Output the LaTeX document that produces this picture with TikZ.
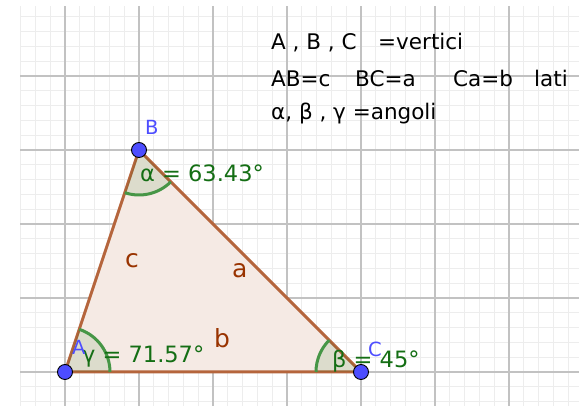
\documentclass[tikz,border=0pt]{standalone}
\usepackage{fontspec}
\setmainfont{DejaVu Sans}
\definecolor{triline}{RGB}{181,101,60}
\definecolor{trifill}{RGB}{245,234,228}
\definecolor{brownlabel}{RGB}{153,51,0}
\definecolor{anglegreen}{RGB}{0,100,0}
\definecolor{arcgreen}{RGB}{70,150,70}
\definecolor{labelgreen}{RGB}{20,110,20}
\definecolor{ptblue}{RGB}{77,77,255}
\begin{document}
\begin{tikzpicture}[x=1pt,y=1pt,
  minorgrid/.style={draw=black!7, line width=1pt},
  majorgrid/.style={draw=black!24, line width=1.6pt},
  side/.style={draw=triline, line width=3pt, line cap=round, line join=round},
  anglesec/.style={fill=anglegreen, fill opacity=0.1},
  anglearc/.style={draw=arcgreen, line width=3pt},
  pt/.style={circle, fill=ptblue, draw=black, line width=0.9pt, minimum size=15pt, inner sep=0pt},
  ptlabel/.style={text=ptblue, font=\fontsize{19.5}{19.5}\selectfont, anchor=base west, inner sep=0pt},
  anglelabel/.style={text=labelgreen, font=\fontsize{22.5}{22.5}\selectfont, anchor=base west, inner sep=0pt},
  sidelabel/.style={text=brownlabel, font=\fontsize{25}{25}\selectfont, anchor=base west, inner sep=0pt},
  info/.style={text=black, font=\fontsize{21.5}{21.5}\selectfont, anchor=base west, inner sep=0pt}]
\useasboundingbox (0,0) rectangle (582,406);
\fill[white] (0,0) rectangle (582,406);
% grid
\begin{scope}
\clip (20,0) rectangle (579,400);
\foreach \i in {0,...,37} \draw[minorgrid] ({20.6+14.8*\i},0) -- ++(0,400);
\foreach \j in {-2,...,24} \draw[minorgrid] (20,{34+14.8*\j}) -- (579,{34+14.8*\j});
\foreach \i in {0,...,6} \draw[majorgrid] ({65+74*\i},0) -- ++(0,400);
\foreach \j in {0,...,4} \draw[majorgrid] (20,{34+74*\j}) -- (579,{34+74*\j});
\end{scope}
% vertices
\coordinate (A) at (65,34);
\coordinate (B) at (139,256);
\coordinate (C) at (361,34);
% triangle
\fill[trifill] (A) -- (B) -- (C) -- cycle;
\draw[side] (A) -- (B) -- (C) -- cycle;
% angles
\fill[anglesec] (A) -- ++(0:45) arc[start angle=0, end angle=71.57, radius=45] -- cycle;
\draw[anglearc] (A) ++(0:45) arc[start angle=0, end angle=71.57, radius=45];
\fill[anglesec] (B) -- ++(251.57:45) arc[start angle=251.57, end angle=315, radius=45] -- cycle;
\draw[anglearc] (B) ++(251.57:45) arc[start angle=251.57, end angle=315, radius=45];
\fill[anglesec] (C) -- ++(135:45) arc[start angle=135, end angle=180, radius=45] -- cycle;
\draw[anglearc] (C) ++(135:45) arc[start angle=135, end angle=180, radius=45];
% side labels
\node[sidelabel] (lc) at (125,138) {c};
\node[sidelabel] (la) at (232,128.5) {a};
\node[sidelabel] (lb) at (214,58) {b};
% angle labels
\node[anglelabel] (alpha) at (140,224) {α = 63.43°};
\node[anglelabel] (gamma) at (82,43) {γ = 71.57°};
\node[anglelabel] (beta) at (332,38) {β = 45°};
% points
\node[pt] (pA) at (A) {};
\node[pt] (pB) at (B) {};
\node[pt] (pC) at (C) {};
\node[ptlabel] (tA) at (72,51) {A};
\node[ptlabel] (tB) at (145,271) {B};
\node[ptlabel] (tC) at (368,49) {C};
% info text
\node[info] (r1a) at (271,356) {A , B , C};
\node[info] (r1b) at (378,356) {=vertici};
\node[info] (r2a) at (271,319.5) {AB=c};
\node[info] (r2b) at (355,319.5) {BC=a};
\node[info] (r2c) at (453,319.5) {Ca=b};
\node[info] (r2d) at (534,319.5) {lati};
\node[info] (r3) at (271,286) {α, β , γ =angoli};
\end{tikzpicture}
\end{document}
